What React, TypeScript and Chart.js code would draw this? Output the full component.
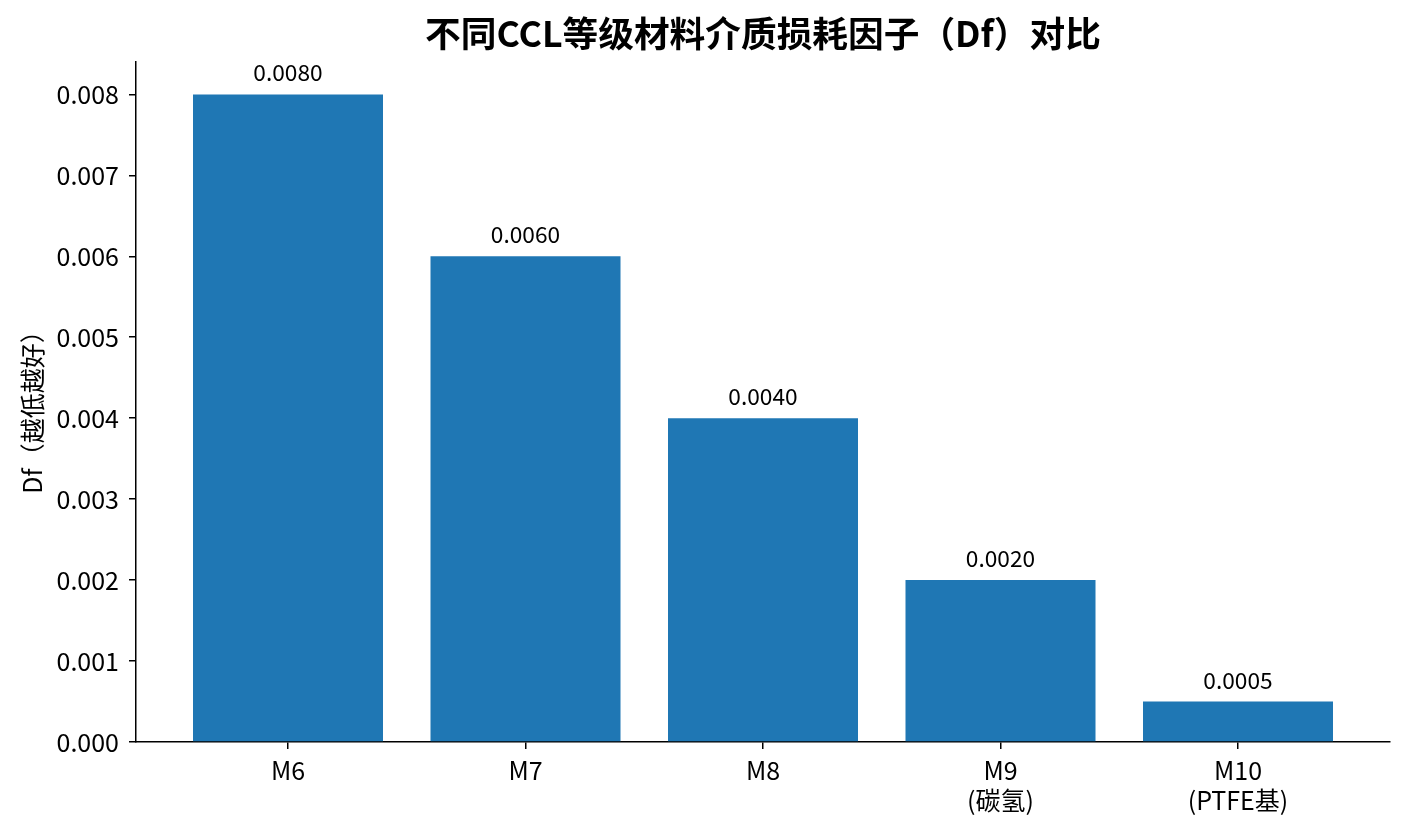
import React, { useEffect, useRef } from "react";
import { Chart, registerables } from "chart.js";

Chart.register(...registerables);

const categories: string[][] = [["M6"], ["M7"], ["M8"], ["M9", "(碳氢)"], ["M10", "(PTFE基)"]];
const dfValues: number[] = [0.008, 0.006, 0.004, 0.002, 0.0005];
const valueLabels: string[] = ["0.0080", "0.0060", "0.0040", "0.0020", "0.0005"];
const yTicks: number[] = [0, 0.001, 0.002, 0.003, 0.004, 0.005, 0.006, 0.007, 0.008];
const titleText = "不同CCL等级材料介质损耗因子（Df）对比";
const yTitle = "Df（越低越好）";

const FONT = "'Noto Sans CJK SC', 'Noto Sans', sans-serif";

export default function App() {
  const ref = useRef<HTMLCanvasElement | null>(null);
  useEffect(() => {
    if (!ref.current) return;
    const textPlugin = {
      id: "texts",
      afterDraw(chart: any) {
        const ctx = chart.ctx;
        const area = chart.chartArea;
        ctx.save();
        ctx.fillStyle = "#000";
        ctx.font = `bold 35.7px ${FONT}`;
        ctx.textAlign = "center";
        ctx.textBaseline = "alphabetic";
        ctx.fillText(titleText, (area.left + area.right) / 2, 47);
        ctx.font = `22.7px ${FONT}`;
        const meta = chart.getDatasetMeta(0);
        meta.data.forEach((bar: any, i: number) => {
          ctx.fillText(valueLabels[i], bar.x, bar.y - 13);
        });
        ctx.translate(32, (area.top + area.bottom) / 2 + 4);
        ctx.rotate(-Math.PI / 2);
        ctx.font = `25px ${FONT}`;
        ctx.textBaseline = "middle";
        ctx.fillText(yTitle, 0, 0);
        ctx.restore();
      },
    };
    const chart = new Chart(ref.current, {
      type: "bar",
      data: {
        datasets: [
          {
            data: dfValues.map((v, i) => ({ x: i, y: v })),
            backgroundColor: "#1f77b4",
            borderWidth: 0,
            barPercentage: 0.8,
            categoryPercentage: 1,
          },
        ],
      },
      options: {
        animation: false,
        responsive: true,
        maintainAspectRatio: false,
        layout: { padding: { top: 62, right: 18, left: 0, bottom: 0 } },
        plugins: { legend: { display: false }, tooltip: { enabled: false }, title: { display: false } },
        scales: {
          x: {
            type: "linear",
            offset: false,
            min: -0.64,
            max: 4.64,
            afterBuildTicks: (s: any) => {
              s.ticks = categories.map((_, i) => ({ value: i }));
            },
            afterFit: (s: any) => {
              s.height = 93;
            },
            ticks: {
              callback: (v: any) => categories[Math.round(Number(v))],
              font: { family: FONT, size: 25 },
              color: "#000",
              padding: 6,
              maxRotation: 0,
              autoSkip: false,
            },
            grid: { display: true, offset: false, drawOnChartArea: false, drawTicks: true, tickLength: 7, color: "#000", lineWidth: 1.5 },
            border: { display: true, color: "#000", width: 1.5 },
          },
          y: {
            min: 0,
            max: 0.0084,
            afterBuildTicks: (s: any) => {
              s.ticks = yTicks.map((v) => ({ value: v }));
            },
            afterFit: (s: any) => {
              s.width = 136;
            },
            ticks: {
              callback: (v: any) => Number(v).toFixed(3),
              font: { family: FONT, size: 25 },
              color: "#000",
              padding: 10,
            },
            grid: { display: true, drawOnChartArea: false, drawTicks: true, tickLength: 7, color: "#000", lineWidth: 1.5 },
            border: { display: true, color: "#000", width: 1.5 },
          },
        },
      },
      plugins: [textPlugin],
    } as any);
    return () => chart.destroy();
  }, []);
  return (
    <div style={{ position: "fixed", left: 0, top: 0, width: 1408, height: 835, background: "#fff" }}>
      <canvas ref={ref} />
    </div>
  );
}
